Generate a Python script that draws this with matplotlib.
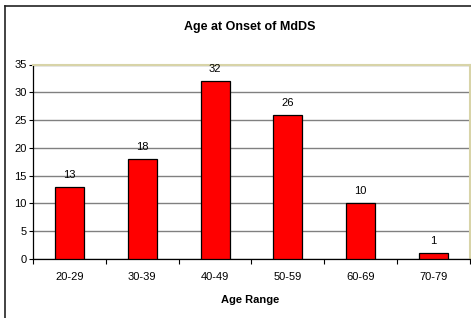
import matplotlib
matplotlib.use("Agg")
import matplotlib.pyplot as plt
from matplotlib.lines import Line2D
import numpy as np

categories = ["20-29", "30-39", "40-49", "50-59", "60-69", "70-79"]
values = [13, 18, 32, 26, 10, 1]
yticks = [0, 5, 10, 15, 20, 25, 30, 35]

plt.rcParams['font.family'] = ['Liberation Sans', 'DejaVu Sans']

W, H = 471, 318
fig = plt.figure(figsize=(W/100, H/100), dpi=100)
fig.patch.set_facecolor("white")

# outer chart border (top and left visible)
fig.add_artist(Line2D([5/W, 5/W], [0, 1 - 5.5/H], transform=fig.transFigure, color="#222222", lw=1.2))
fig.add_artist(Line2D([5/W, 1], [1 - 5.5/H, 1 - 5.5/H], transform=fig.transFigure, color="#222222", lw=1.2))

left, right, top, bottom = 33, 470, 64.5, 259
ax = fig.add_axes([left/W, 1 - bottom/H, (right-left)/W, (bottom-top)/H])
x = np.arange(len(categories))
ax.bar(x, values, width=0.4, color="#FF0000", edgecolor="black", linewidth=0.9, zorder=3)
ax.set_xlim(-0.5, len(categories) - 0.5)
ax.set_ylim(0, 35)
ax.set_yticks(yticks)
ax.set_yticklabels([str(t) for t in yticks], fontsize=8)
ax.yaxis.grid(True, color="#808080", lw=1.0, zorder=0)
ax.set_axisbelow(True)

ax.set_xticks(x)
ax.set_xticklabels(categories, fontsize=8)
ax.set_xticks(np.arange(-0.5, len(categories)), minor=True)
ax.tick_params(axis="x", which="major", length=0, pad=9)
ax.tick_params(axis="x", which="minor", length=3.5, width=0.8, direction="out", color="black")
ax.tick_params(axis="y", length=3, width=0.8, direction="out", pad=1.5)

for s in ["top", "right"]:
    ax.spines[s].set_color("#d8d4a8")
    ax.spines[s].set_linewidth(1.5)
for s in ["left", "bottom"]:
    ax.spines[s].set_color("black")
    ax.spines[s].set_linewidth(0.9)

for xi, v in zip(x, values):
    ax.annotate(str(v), (xi, v), xytext=(0, 12), textcoords="offset pixels",
                ha="center", va="center", fontsize=8)

fig.text(250/W, 1 - 27/H, "Age at Onset of MdDS", ha="center", va="center", fontsize=9, fontweight="bold")
fig.text(250/W, 1 - 300/H, "Age Range", ha="center", va="center", fontsize=8, fontweight="bold")

fig.savefig("out.png", dpi=100)
